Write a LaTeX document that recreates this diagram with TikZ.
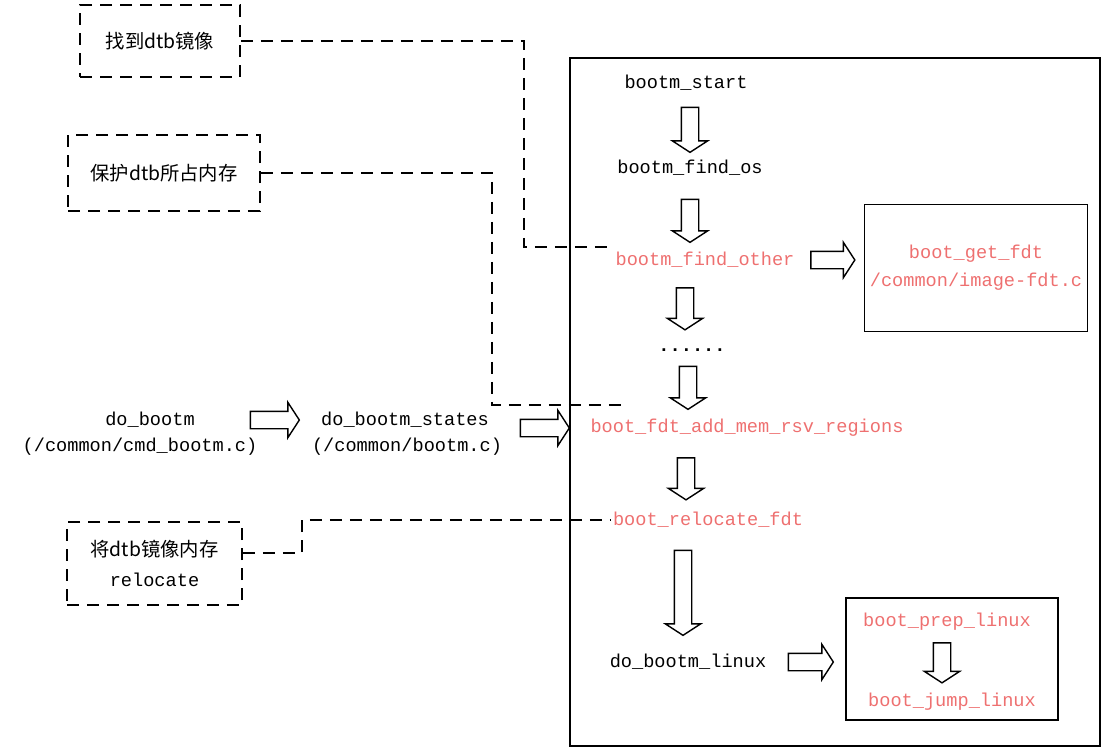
\documentclass[tikz,border=0pt]{standalone}
\usepackage{fontspec}
\setmonofont{Liberation Mono}
\newfontfamily\cjk{Noto Sans CJK SC}
\usepackage{tikz}
\usetikzlibrary{shapes.arrows,positioning,calc}

\definecolor{fdtred}{RGB}{238,112,112}

\begin{document}
\begin{tikzpicture}[x=0.02cm, y=-0.02cm,
    code/.style = {font=\ttfamily\fontsize{10.6}{16}\selectfont, inner sep=1pt, align=center},
    redcode/.style = {code, text=fdtred},
    note/.style = {draw, line width=1.1pt, dash pattern=on 0.24cm off 0.16cm,
      font=\cjk\fontsize{11}{17}\selectfont, align=center},
    link/.style = {line width=1.1pt, dash pattern=on 0.24cm off 0.16cm},
    frame/.style = {draw, line width=0.9pt},
    hollow/.style = {single arrow, draw, fill=white, line width=0.8pt,
      inner xsep=0pt, inner ysep=0.16cm, single arrow head extend=0.18cm,
      single arrow tip angle=114, minimum height=#1},
    hollowdown/.style = {hollow=#1, rotate=-90}]
    \useasboundingbox (0,0) rectangle (1108,752);

    % main box
    \node[frame, minimum width=10.6cm, minimum height=13.76cm] (bootm) at (835,402) {};
    \node[code] (start) at (686,83) {bootm\_start};
    \node[code] (findos) at (690,168) {bootm\_find\_os};
    \node[redcode] (findother) at (705,260) {bootm\_find\_other};
    \node[code] (dots) at (692,350) {\textbf{......}};
    \node[redcode] (addmem) at (747,428) {boot\_fdt\_add\_mem\_rsv\_regions};
    \node[redcode] (reloc) at (708,520) {boot\_relocate\_fdt};
    \node[code] (linux) at (688,662) {do\_bootm\_linux};

    \node[hollowdown=0.9cm] (d1) at (690,127) {};
    \node[hollowdown=0.86cm] (d2) at (690,218) {};
    \node[hollowdown=0.84cm] (d3) at (685,306) {};
    \node[hollowdown=0.86cm] (d4) at (688,385) {};
    \node[hollowdown=0.84cm] (d5) at (686,476) {};
    \node[hollowdown=1.7cm] (d6) at (683,590) {};

    % side boxes
    \node[frame, redcode, minimum width=4.46cm, minimum height=2.54cm] (getfdt) at (976,268)
      {boot\_get\_fdt\\/common/image-fdt.c};
    \node[hollow=0.88cm] (r1) at (830,260) {};

    \node[frame, minimum width=4.24cm, minimum height=2.44cm] (lbox) at (952,659) {};
    \node[redcode] (prep) at (947,622) {boot\_prep\_linux};
    \node[redcode] (jump) at (952,702) {boot\_jump\_linux};
    \node[hollowdown=0.8cm] (d7) at (942,660) {};
    \node[hollow=0.9cm] (r2) at (808,662) {};

    % callers
    \node[code] (dobootm) at (150,420) {do\_bootm};
    \node[code] (cmdfile) at (140,447) {(/common/cmd\_bootm.c)};
    \node[code] (states) at (405,420) {do\_bootm\_states};
    \node[code] (bootmfile) at (407,447) {(/common/bootm.c)};
    \node[hollow=0.98cm] (r3) at (272,420) {};
    \node[hollow=0.98cm] (r4) at (542,428) {};

    % notes
    \node[note, minimum width=3.2cm, minimum height=1.44cm] (find) at (160,41) {找到dtb镜像};
    \node[note, minimum width=3.84cm, minimum height=1.52cm] (protect) at (164,173) {保护dtb所占内存};
    \node[note, minimum width=3.5cm, minimum height=1.66cm] (move) at (154.5,563.5)
      {将dtb镜像内存\\{\ttfamily\fontsize{10.6}{16}\selectfont relocate}};

    \coordinate (t1) at (524,247);
    \coordinate (t2) at (492,405);
    \coordinate (t3) at (302,520);
    \draw[link] (find.east) -| (t1) -- (t1 -| findother.west);
    \draw[link] (protect.east) -| (t2) -- ++(133,0);
    \draw[link] ([yshift=0.21cm]move.east) -| (t3) -- (reloc.west);
\end{tikzpicture}
\end{document}
